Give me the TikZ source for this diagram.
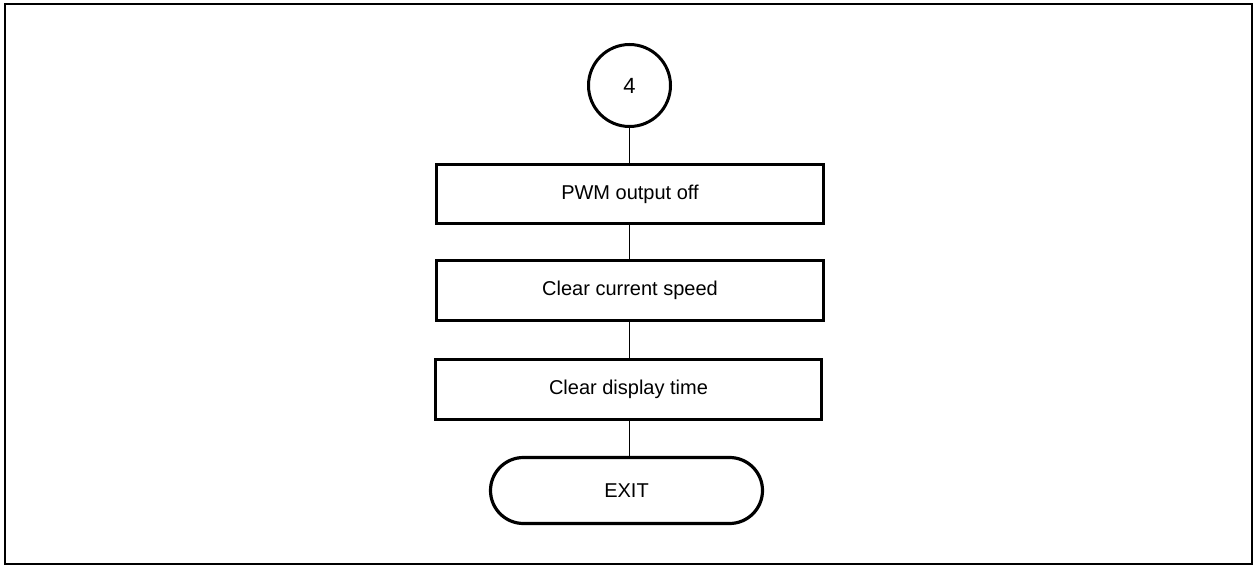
\documentclass[tikz,border=0pt]{standalone}
\usepackage{fontspec}
\setmainfont{Liberation Sans}
\begin{document}
\begin{tikzpicture}[x=1pt,y=-1pt,
  procbox/.style={draw,line width=3.4pt,minimum width=387pt,minimum height=59pt,inner sep=0pt,font=\fontsize{20}{24}\selectfont},
  conn/.style={draw,circle,line width=3pt,minimum size=82pt,inner sep=0pt,font=\fontsize{22}{26}\selectfont},
  term/.style={draw,line width=3.2pt,rounded corners=33pt,minimum width=272pt,minimum height=66pt,inner sep=0pt,font=\fontsize{20}{24}\selectfont},
  link/.style={line width=1.6pt}]
\useasboundingbox (0,0) rectangle (1256,569);
\draw[line width=2.4pt] (5,4) rectangle (1252,564);
\node[conn] (c4) at (629.5,85.5) {4};
\node[procbox] (b1) at (630,194) {PWM output off};
\node[procbox,minimum height=60pt] (b2) at (630,290.5) {Clear current speed};
\node[procbox,minimum height=60pt,minimum width=386pt] (b3) at (628.5,389.5) {Clear display time};
\node[term] (ex) at (626.5,490.5) {EXIT};
\draw[link] (c4.south) -- (c4.south |- b1.north);
\draw[link] (b1.south -| c4) -- (b2.north -| c4);
\draw[link] (b2.south -| c4) -- (b3.north -| c4);
\draw[link] (b3.south -| c4) -- (ex.north -| c4);
\end{tikzpicture}
\end{document}
